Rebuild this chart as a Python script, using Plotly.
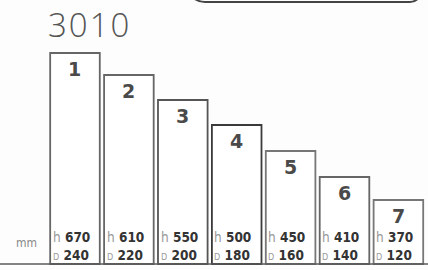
import plotly.graph_objects as go

title = "3010"
sizes = ["1", "2", "3", "4", "5", "6", "7"]
h_mm = [670, 610, 550, 500, 450, 410, 370]
d_mm = [240, 220, 200, 180, 160, 140, 120]
bar_level = [211, 189, 164, 139, 113, 87, 64]  # relative step heights

xs = list(range(len(sizes)))
edge = ["#666", "#666", "#555", "#3a3a3a", "#777", "#666", "#777"]
fig = go.Figure()
fig.add_trace(go.Bar(
    x=xs, y=bar_level, width=0.92,
    marker=dict(color="white", line=dict(color=edge, width=1.8)),
    hoverinfo="skip",
))

ann = []
for i, s in enumerate(sizes):
    ann.append(dict(x=xs[i], y=bar_level[i] - 16, text=f"<b>{s}</b>", showarrow=False,
                    font=dict(size=19, color="#4a4a4a", family="DejaVu Sans"),
                    xanchor="center", yanchor="middle"))
    ann.append(dict(x=xs[i] - 0.45, y=27, text=f"<span style='color:#999;font-weight:normal'>h</span> {h_mm[i]}",
                    showarrow=False, xanchor="left", yanchor="middle",
                    font=dict(size=13.5, color="#333", family="DejaVu Sans Condensed", weight="bold")))
    ann.append(dict(x=xs[i] - 0.45, y=9, text=f"<span style='color:#999;font-size:9px;font-weight:normal'>D</span> {d_mm[i]}",
                    showarrow=False, xanchor="left", yanchor="middle",
                    font=dict(size=13.5, color="#333", family="DejaVu Sans Condensed", weight="bold")))

ann.append(dict(x=26 / 428, y=1 - 243 / 270, xref="paper", yref="paper", text="mm", showarrow=False,
                font=dict(size=12, color="#888", family="DejaVu Sans Condensed"),
                xanchor="center", yanchor="middle"))
ann.append(dict(x=46 / 428, y=1 - 25 / 270, xref="paper", yref="paper",
                text="<span style='letter-spacing:2px'>" + title + "</span>", showarrow=False,
                xanchor="left", yanchor="middle",
                font=dict(size=33, color="#555", family="Open Sans", weight=300)))

fig.update_layout(
    width=428, height=270, margin=dict(l=0, r=0, t=0, b=0),
    paper_bgcolor="#fdfdfd", plot_bgcolor="#fdfdfd", showlegend=False,
    xaxis=dict(range=[-1.391, 6.549], visible=False, fixedrange=True),
    yaxis=dict(range=[-6, 264], visible=False, fixedrange=True),
    annotations=ann,
    shapes=[
        dict(type="line", xref="paper", yref="y", x0=0, x1=1, y0=0, y1=0,
             line=dict(color="#5a5a5a", width=1.5)),
        dict(type="path", xref="paper", yref="paper",
             path=f"M {190/428} 1.02 Q {196/428} {1-2/270} {205/428} {1-2/270} L {410/428} {1-2/270} Q {417/428} {1-2/270} {421/428} 1.02",
             line=dict(color="#444", width=2)),
    ],
)
fig.write_html("out.html", config={"displayModeBar": False},
               post_script="document.body.style.margin='0';document.body.style.overflow='hidden';")
